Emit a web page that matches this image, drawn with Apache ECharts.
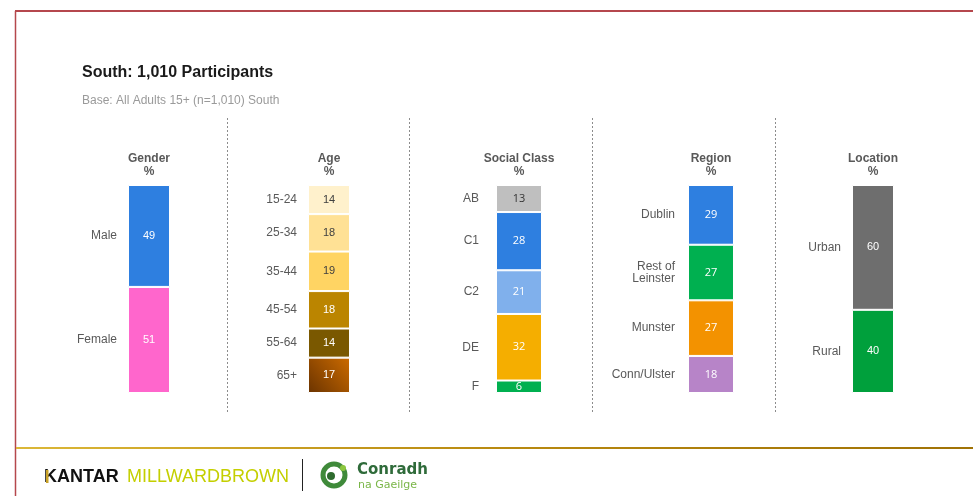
<!DOCTYPE html>
<html>
<head>
<meta charset="utf-8">
<title>South: 1,010 Participants</title>
<script src="https://cdn.jsdelivr.net/npm/echarts@6/dist/echarts.min.js"></script>
<style>
  html, body { margin: 0; padding: 0; background: #ffffff; }
  #chart { width: 973px; height: 496px; }
</style>
</head>
<body>
<div id="chart"></div>
<script>
// Sample profile, percentages per demographic breakdown
const genderCats = ['Male', 'Female'];
const genderVals = [49, 51];

const ageCats = ['15-24', '25-34', '35-44', '45-54', '55-64', '65+'];
const ageVals = [14, 18, 19, 18, 14, 17];

const classCats = ['AB', 'C1', 'C2', 'DE', 'F'];
const classVals = [13, 28, 21, 32, 6];

const regionCats = ['Dublin', 'Rest of\nLeinster', 'Munster', 'Conn/Ulster'];
const regionVals = [29, 27, 27, 18];

const locationCats = ['Urban', 'Rural'];
const locationVals = [60, 40];

const headers = ['Gender', 'Age', 'Social Class', 'Region', 'Location'];

// Segment fills and label colours
const oldAgeFill = {
  type: 'linear', x: 0, y: 1, x2: 1, y2: 0,
  colorStops: [{ offset: 0, color: '#6a3300' }, { offset: 1, color: '#cc6b00' }]
};
const columns = [
  { cats: genderCats, vals: genderVals, center: 149, width: 42, gap: 11, font: 'Liberation Sans',
    colors: ['#2e7fe0', '#ff66cc'], text: ['#fff', '#fff'] },
  { cats: ageCats, vals: ageVals, center: 329, width: 42, gap: 11, font: 'Liberation Sans',
    colors: ['#fff1cc', '#ffe195', '#ffd463', '#bb8500', '#7a5800', oldAgeFill],
    text: ['#404040', '#404040', '#404040', '#fff', '#fff', '#fff'] },
  { cats: classCats, vals: classVals, center: 519, width: 46, gap: 17, font: 'Open Sans',
    colors: ['#bfbfbf', '#2e7fe0', '#80b0ec', '#f5ae00', '#00b050'],
    text: ['#333', '#fff', '#fff', '#fff', '#fff'] },
  { cats: regionCats, vals: regionVals, center: 711, width: 46, gap: 13, font: 'Open Sans',
    colors: ['#2e7fe0', '#00b050', '#f39200', '#b784c8'],
    text: ['#fff', '#fff', '#fff', '#fff'] },
  { cats: locationCats, vals: locationVals, center: 873, width: 42, gap: 11, font: 'Liberation Sans',
    colors: ['#6e6e6e', '#00a03c'], text: ['#fff', '#fff'] }
];

const grid = [], xAxis = [], yAxis = [], series = [];
columns.forEach((col, i) => {
  const total = col.vals.reduce((a, b) => a + b, 0);
  grid.push({ left: col.center - 40, width: 80, top: 185, height: 208 });
  xAxis.push({
    type: 'category', gridIndex: i, position: 'top', data: [headers[i]],
    axisLine: { show: false }, axisTick: { show: false },
    axisLabel: {
      margin: 7, formatter: v => v + '\n%', color: '#595959',
      fontFamily: 'Liberation Sans', fontWeight: 'bold', fontSize: 12, lineHeight: 13
    }
  });
  yAxis.push({ type: 'value', gridIndex: i, min: 0, max: total, inverse: true, show: false });
  col.vals.forEach((v, j) => {
    // visible segment with its value
    series.push({
      type: 'bar', xAxisIndex: i, yAxisIndex: i, stack: 'v' + i, barWidth: col.width, barGap: '-100%',
      data: [v], silent: true,
      itemStyle: { color: col.colors[j], borderColor: '#ffffff', borderWidth: 1 },
      label: { show: true, position: 'inside', formatter: '{c}', color: col.text[j],
               fontFamily: col.font, fontSize: 11 }
    });
  });
  col.vals.forEach((v, j) => {
    // transparent twin segment carrying the category name to the left
    series.push({
      type: 'bar', xAxisIndex: i, yAxisIndex: i, stack: 'n' + i, barWidth: col.width, barGap: '-100%',
      data: [v], silent: true, itemStyle: { color: 'transparent' },
      label: { show: true, position: [-col.gap, '50%'], align: 'right', verticalAlign: 'middle',
               formatter: () => col.cats[j], color: '#595959', fontFamily: 'Liberation Sans',
               fontSize: 12, lineHeight: 12 }
    });
  });
});

// Frame, dividers and footer
const graphic = [
  { type: 'line', shape: { x1: 15, y1: 11, x2: 973, y2: 11 }, style: { stroke: '#b5474d', lineWidth: 2 } },
  { type: 'line', shape: { x1: 15.5, y1: 11, x2: 15.5, y2: 496 }, style: { stroke: '#b5474d', lineWidth: 1.5 } },
  { type: 'line', shape: { x1: 16, y1: 448, x2: 973, y2: 448 },
    style: { lineWidth: 2, stroke: { type: 'linear', x: 0, y: 0, x2: 1, y2: 0,
      colorStops: [{ offset: 0, color: '#dcb838' }, { offset: 0.5, color: '#b98a10' }, { offset: 1, color: '#a07205' }] } } }
];
[227, 409, 592, 775].forEach(x => {
  graphic.push({ type: 'line', shape: { x1: x + 0.5, y1: 118, x2: x + 0.5, y2: 413 },
    style: { stroke: '#8c8c8c', lineWidth: 1, lineDash: [2, 2] } });
});
graphic.push(
  { type: 'text', x: 44, y: 477, style: { text: 'KANTAR', fill: '#111', font: 'bold 18px "Liberation Sans"', verticalAlign: 'middle' } },
  { type: 'rect', shape: { x: 46, y: 470, width: 2.5, height: 13 }, style: { fill: '#c9a227' } },
  { type: 'text', x: 127, y: 477, style: { text: 'MILLWARDBROWN', fill: '#c4cf00', font: '18px "Liberation Sans"', verticalAlign: 'middle' } },
  { type: 'line', shape: { x1: 302.5, y1: 459, x2: 302.5, y2: 491 }, style: { stroke: '#222', lineWidth: 1 } },
  { type: 'circle', shape: { cx: 334, cy: 475, r: 11 }, style: { fill: 'none', stroke: '#3f8a3a', lineWidth: 5 } },
  { type: 'circle', shape: { cx: 331, cy: 476, r: 4 }, style: { fill: '#2e6b2e' } },
  { type: 'circle', shape: { cx: 343, cy: 468, r: 3 }, style: { fill: '#8cc63f' } },
  { type: 'text', x: 357, y: 470, style: { text: 'Conradh', fill: '#2f6b3a', font: 'bold 15px "DejaVu Sans"', verticalAlign: 'middle' } },
  { type: 'text', x: 358, y: 485, style: { text: 'na Gaeilge', fill: '#7ab648', font: '11px "DejaVu Sans"', verticalAlign: 'middle' } }
);

const chart = echarts.init(document.getElementById('chart'), null, { renderer: 'canvas' });
chart.setOption({
  backgroundColor: '#ffffff',
  animation: false,
  title: {
    text: 'South: 1,010 Participants', left: 77, top: 60,
    textStyle: { fontFamily: 'Liberation Sans', fontSize: 16, fontWeight: 'bold', color: '#1a1a1a' },
    subtext: 'Base: All Adults 15+ (n=1,010) South', itemGap: 14,
    subtextStyle: { fontFamily: 'Liberation Sans', fontSize: 12, color: '#9a9a9a' }
  },
  grid, xAxis, yAxis, series, graphic
});
</script>
</body>
</html>
